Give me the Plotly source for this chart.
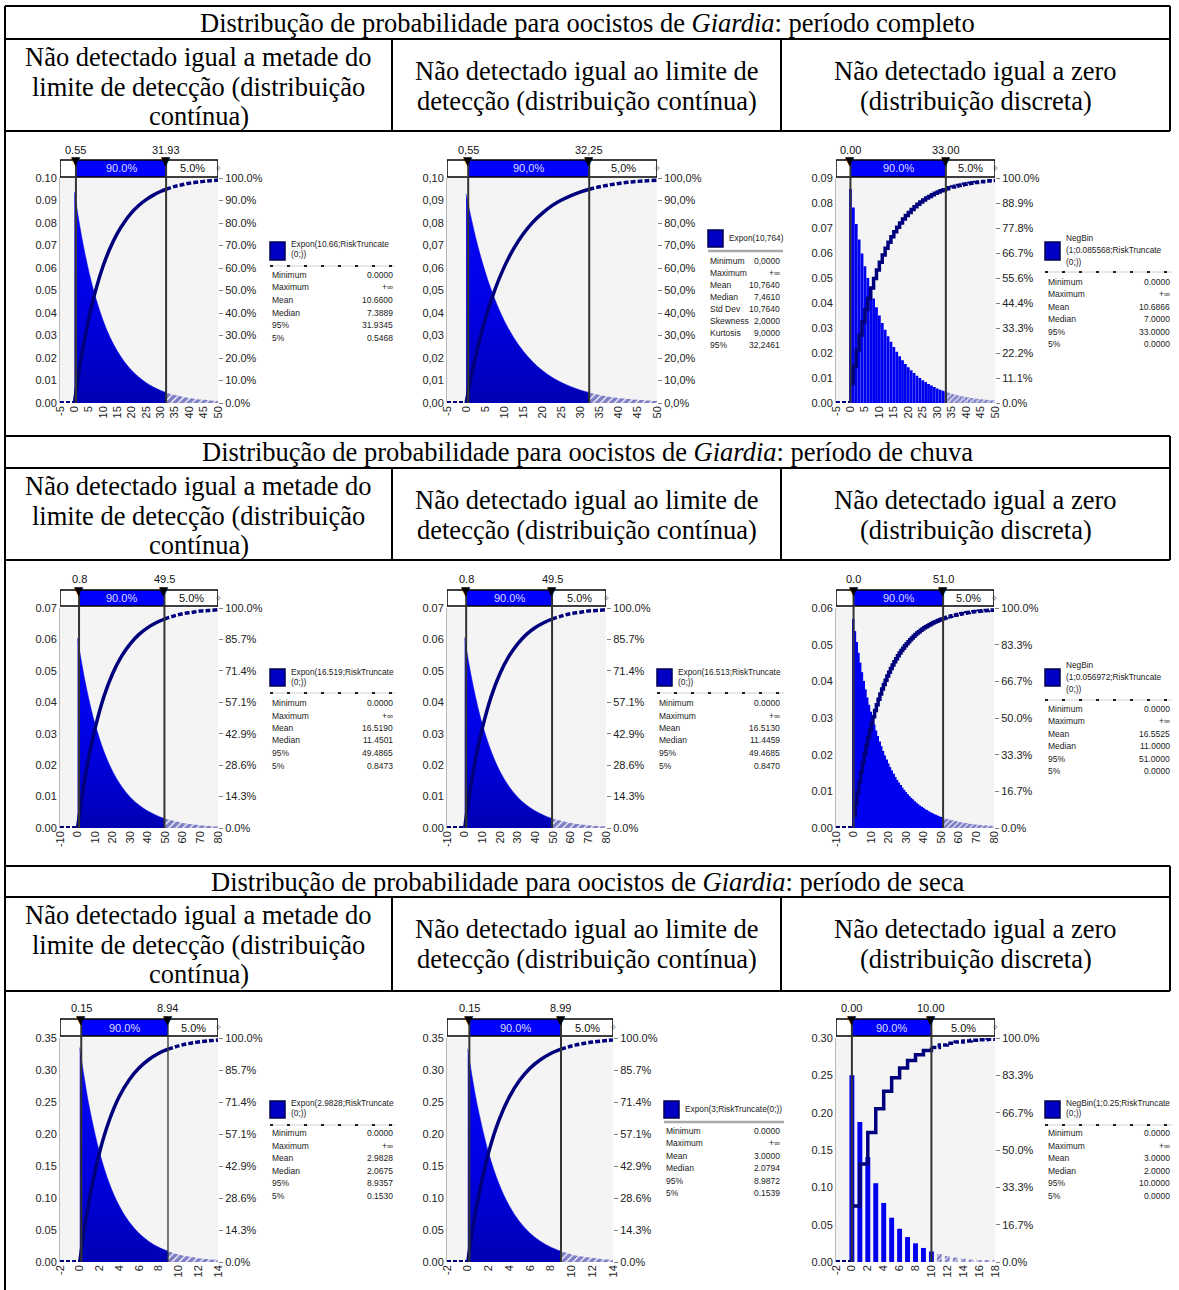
import numpy as np
import plotly.graph_objects as go

W, H = 1179, 1290

# ------------------------------------------------------------------ text data
TITLES = [
    "Distribução de probabilidade para oocistos de <i>Giardia</i>: período completo",
    "Distribução de probabilidade para oocistos de <i>Giardia</i>: período de chuva",
    "Distribução de probabilidade para oocistos de <i>Giardia</i>: período de seca",
]
HEAD_COL1 = ["Não detectado igual a metade do", "limite de detecção (distribuição", "contínua)"]
HEAD_COL2 = ["Não detectado igual ao limite de", "detecção (distribuição contínua)"]
HEAD_COL3 = ["Não detectado igual a zero", "(distribuição discreta)"]

# ------------------------------------------------------------------ tick labels
XT_A = [-5, 0, 5, 10, 15, 20, 25, 30, 35, 40, 45, 50]
XT_B = [-10, 0, 10, 20, 30, 40, 50, 60, 70, 80]
XT_C = [-2, 0, 2, 4, 6, 8, 10, 12, 14]
XT_D = [-2, 0, 2, 4, 6, 8, 10, 12, 14, 16, 18]

YL_10 = ["0.00", "0.01", "0.02", "0.03", "0.04", "0.05", "0.06", "0.07", "0.08", "0.09", "0.10"]
YL_10C = ["0,00", "0,01", "0,02", "0,03", "0,04", "0,05", "0,06", "0,07", "0,08", "0,09", "0,10"]
YL_9 = ["0.00", "0.01", "0.02", "0.03", "0.04", "0.05", "0.06", "0.07", "0.08", "0.09"]
YL_7 = ["0.00", "0.01", "0.02", "0.03", "0.04", "0.05", "0.06", "0.07"]
YL_6 = ["0.00", "0.01", "0.02", "0.03", "0.04", "0.05", "0.06"]
YL_35 = ["0.00", "0.05", "0.10", "0.15", "0.20", "0.25", "0.30", "0.35"]
YL_30 = ["0.00", "0.05", "0.10", "0.15", "0.20", "0.25", "0.30"]

YR_10 = ["0.0%", "10.0%", "20.0%", "30.0%", "40.0%", "50.0%", "60.0%", "70.0%", "80.0%", "90.0%", "100.0%"]
YR_10C = ["0,0%", "10,0%", "20,0%", "30,0%", "40,0%", "50,0%", "60,0%", "70,0%", "80,0%", "90,0%", "100,0%"]
YR_9 = ["0.0%", "11.1%", "22.2%", "33.3%", "44.4%", "55.6%", "66.7%", "77.8%", "88.9%", "100.0%"]
YR_7 = ["0.0%", "14.3%", "28.6%", "42.9%", "57.1%", "71.4%", "85.7%", "100.0%"]
YR_6 = ["0.0%", "16.7%", "33.3%", "50.0%", "66.7%", "83.3%", "100.0%"]

# ------------------------------------------------------------------ series data
# Panel 1: Expon(10.66) truncated at 0
P1_X = [0, 2.5, 5, 7.5, 10, 12.5, 15, 17.5, 20, 22.5, 25, 27.5, 30, 31.93, 35, 37.5, 40, 42.5, 45, 47.5, 50]
P1_DENS = [0.0938, 0.0742, 0.0587, 0.0464, 0.0367, 0.0290, 0.0230, 0.0182, 0.0144, 0.0114, 0.0090,
           0.0071, 0.0056, 0.0047, 0.0035, 0.0028, 0.0022, 0.0017, 0.0014, 0.0011, 0.0009]
P1_CDF = [0.0, 0.209, 0.374, 0.505, 0.609, 0.690, 0.755, 0.806, 0.847, 0.879, 0.904,
          0.924, 0.940, 0.950, 0.963, 0.970, 0.977, 0.981, 0.985, 0.988, 0.991]

# Panel 2: Expon(10,764)
P2_X = [0, 2.5, 5, 7.5, 10, 12.5, 15, 17.5, 20, 22.5, 25, 27.5, 30, 32.25, 35, 37.5, 40, 42.5, 45, 47.5, 50]
P2_DENS = [0.0929, 0.0736, 0.0583, 0.0462, 0.0366, 0.0290, 0.0230, 0.0182, 0.0144, 0.0114, 0.0091,
           0.0072, 0.0057, 0.0046, 0.0036, 0.0028, 0.0022, 0.0018, 0.0014, 0.0011, 0.0009]
P2_CDF = [0.0, 0.207, 0.372, 0.502, 0.605, 0.687, 0.752, 0.804, 0.844, 0.877, 0.902,
          0.922, 0.938, 0.950, 0.961, 0.969, 0.976, 0.981, 0.985, 0.988, 0.990]

# Panel 3: NegBin(1;0.085568) probabilities for k = 0..50
P3_K = list(range(0, 51))
P3_PROB = [0.0856, 0.0782, 0.0716, 0.0654, 0.0598, 0.0547, 0.0500, 0.0457, 0.0418, 0.0383,
           0.0350, 0.0320, 0.0293, 0.0267, 0.0245, 0.0224, 0.0205, 0.0187, 0.0171, 0.0156,
           0.0143, 0.0131, 0.0120, 0.0109, 0.0100, 0.0091, 0.0084, 0.0076, 0.0070, 0.0064,
           0.0058, 0.0053, 0.0049, 0.0045, 0.0041, 0.0037, 0.0034, 0.0031, 0.0029, 0.0026,
           0.0024, 0.0022, 0.0020, 0.0018, 0.0017, 0.0015, 0.0014, 0.0013, 0.0012, 0.0011, 0.0010]

# Panel 4: Expon(16.519)
P4_X = [0, 2.5, 5, 7.5, 10, 15, 20, 25, 30, 35, 40, 45, 49.49, 55, 60, 65, 70, 75, 80]
P4_DENS = [0.0605, 0.0520, 0.0447, 0.0384, 0.0330, 0.0244, 0.0180, 0.0133, 0.0098, 0.0073,
           0.0054, 0.0040, 0.0030, 0.0022, 0.0016, 0.0012, 0.0009, 0.0006, 0.0005]
P4_CDF = [0.0, 0.140, 0.261, 0.365, 0.454, 0.597, 0.702, 0.780, 0.837, 0.880,
          0.911, 0.934, 0.950, 0.964, 0.974, 0.980, 0.986, 0.989, 0.992]

# Panel 5: Expon(16.513)
P5_X = [0, 2.5, 5, 7.5, 10, 15, 20, 25, 30, 35, 40, 45, 49.47, 55, 60, 65, 70, 75, 80]
P5_DENS = [0.0606, 0.0520, 0.0447, 0.0384, 0.0330, 0.0244, 0.0180, 0.0133, 0.0098, 0.0073,
           0.0054, 0.0040, 0.0030, 0.0022, 0.0016, 0.0012, 0.0009, 0.0006, 0.0005]
P5_CDF = [0.0, 0.140, 0.261, 0.365, 0.454, 0.597, 0.702, 0.780, 0.837, 0.880,
          0.911, 0.934, 0.950, 0.964, 0.974, 0.980, 0.986, 0.989, 0.992]

# Panel 6: NegBin(1;0.056972) probabilities for k = 0..80
P6_K = list(range(0, 81))
P6_PROB = [0.0570, 0.0537, 0.0507, 0.0478, 0.0451, 0.0425, 0.0401, 0.0378, 0.0356, 0.0336,
           0.0317, 0.0299, 0.0282, 0.0266, 0.0251, 0.0236, 0.0223, 0.0210, 0.0198, 0.0187,
           0.0176, 0.0166, 0.0157, 0.0148, 0.0139, 0.0131, 0.0124, 0.0117, 0.0110, 0.0104,
           0.0098, 0.0092, 0.0087, 0.0082, 0.0078, 0.0073, 0.0069, 0.0065, 0.0061, 0.0058,
           0.0055, 0.0051, 0.0049, 0.0046, 0.0043, 0.0041, 0.0038, 0.0036, 0.0034, 0.0032,
           0.0030, 0.0029, 0.0027, 0.0025, 0.0024, 0.0023, 0.0021, 0.0020, 0.0019, 0.0018,
           0.0017, 0.0016, 0.0015, 0.0014, 0.0013, 0.0013, 0.0012, 0.0011, 0.0011, 0.0010,
           0.0009, 0.0009, 0.0008, 0.0008, 0.0007, 0.0007, 0.0007, 0.0006, 0.0006, 0.0006, 0.0005]

# Panel 7: Expon(2.9828)
P7_X = [0, 0.5, 1, 2, 3, 4, 5, 6, 7, 8, 8.94, 10, 11, 12, 13, 14]
P7_DENS = [0.3353, 0.2836, 0.2398, 0.1715, 0.1226, 0.0877, 0.0627, 0.0448, 0.0321, 0.0229,
           0.0168, 0.0117, 0.0084, 0.0060, 0.0043, 0.0031]
P7_CDF = [0.0, 0.154, 0.285, 0.489, 0.634, 0.739, 0.813, 0.866, 0.904, 0.932,
          0.950, 0.965, 0.975, 0.982, 0.987, 0.991]

# Panel 8: Expon(3)
P8_X = [0, 0.5, 1, 2, 3, 4, 5, 6, 7, 8, 8.99, 10, 11, 12, 13, 14]
P8_DENS = [0.3333, 0.2821, 0.2388, 0.1711, 0.1226, 0.0879, 0.0630, 0.0451, 0.0323, 0.0232,
           0.0167, 0.0119, 0.0085, 0.0061, 0.0044, 0.0031]
P8_CDF = [0.0, 0.154, 0.283, 0.487, 0.632, 0.736, 0.811, 0.865, 0.903, 0.931,
          0.950, 0.964, 0.974, 0.982, 0.987, 0.991]

# Panel 9: NegBin(1;0.25) probabilities for k = 0..18
P9_K = list(range(0, 19))
P9_PROB = [0.2500, 0.1875, 0.1406, 0.1055, 0.0791, 0.0593, 0.0445, 0.0334, 0.0250, 0.0188,
           0.0141, 0.0106, 0.0079, 0.0059, 0.0045, 0.0033, 0.0025, 0.0019, 0.0014]

# ------------------------------------------------------------------ legend / stats data
NAMES_STD = ["Minimum", "Maximum", "Mean", "Median", "95%", "5%"]
NAMES_P2 = ["Minimum", "Maximum", "Mean", "Median", "Std Dev", "Skewness", "Kurtosis", "95%"]

P1_STATS = ["0.0000", "+∞", "10.6600", "7.3889", "31.9345", "0.5468"]
P2_STATS = ["0,0000", "+∞", "10,7640", "7,4610", "10,7640", "2,0000", "9,0000", "32,2461"]
P3_STATS = ["0.0000", "+∞", "10.6866", "7.0000", "33.0000", "0.0000"]
P4_STATS = ["0.0000", "+∞", "16.5190", "11.4501", "49.4865", "0.8473"]
P5_STATS = ["0.0000", "+∞", "16.5130", "11.4459", "49.4685", "0.8470"]
P6_STATS = ["0.0000", "+∞", "16.5525", "11.0000", "51.0000", "0.0000"]
P7_STATS = ["0.0000", "+∞", "2.9828", "2.0675", "8.9357", "0.1530"]
P8_STATS = ["0.0000", "+∞", "3.0000", "2.0794", "8.9872", "0.1539"]
P9_STATS = ["0.0000", "+∞", "3.0000", "2.0000", "10.0000", "0.0000"]

P1_LEG = ["Expon(10.66;RiskTruncate", "(0;))"]
P2_LEG = ["Expon(10,764)"]
P3_LEG = ["NegBin", "(1;0.085568;RiskTruncate", "(0;))"]
P4_LEG = ["Expon(16.519;RiskTruncate", "(0;))"]
P5_LEG = ["Expon(16.513;RiskTruncate", "(0;))"]
P6_LEG = ["NegBin", "(1;0.056972;RiskTruncate", "(0;))"]
P7_LEG = ["Expon(2.9828;RiskTruncate", "(0;))"]
P8_LEG = ["Expon(3;RiskTruncate(0;))"]
P9_LEG = ["NegBin(1;0.25;RiskTruncate", "(0;))"]

# 5% / 95% markers (values) and their labels
P_MARK = [(0.5468, 31.9345), (0.552, 32.2461), (0.0, 33.0), (0.8473, 49.4865), (0.8470, 49.4685),
          (0.0, 51.0), (0.1530, 8.9357), (0.1539, 8.9872), (0.0, 10.0)]
P_MARK_LBL = [("0.55", "31.93"), ("0,55", "32,25"), ("0.00", "33.00"), ("0.8", "49.5"), ("0.8", "49.5"),
              ("0.0", "51.0"), ("0.15", "8.94"), ("0.15", "8.99"), ("0.00", "10.00")]
P_PCT = [("90.0%", "5.0%"), ("90,0%", "5,0%"), ("90.0%", "5.0%"), ("90.0%", "5.0%"), ("90.0%", "5.0%"),
         ("90.0%", "5.0%"), ("90.0%", "5.0%"), ("90.0%", "5.0%"), ("90.0%", "5.0%")]

PANELS = [
    dict(kind="cont", X=P1_X, D=P1_DENS, C=P1_CDF, xt=XT_A, yl=YL_10, yr=YR_10, leg=P1_LEG, names=NAMES_STD, vals=P1_STATS),
    dict(kind="cont", X=P2_X, D=P2_DENS, C=P2_CDF, xt=XT_A, yl=YL_10C, yr=YR_10C, leg=P2_LEG, names=NAMES_P2, vals=P2_STATS),
    dict(kind="disc", X=P3_K, D=P3_PROB, xt=XT_A, yl=YL_9, yr=YR_9, leg=P3_LEG, names=NAMES_STD, vals=P3_STATS, bw=0.97),
    dict(kind="cont", X=P4_X, D=P4_DENS, C=P4_CDF, xt=XT_B, yl=YL_7, yr=YR_7, leg=P4_LEG, names=NAMES_STD, vals=P4_STATS),
    dict(kind="cont", X=P5_X, D=P5_DENS, C=P5_CDF, xt=XT_B, yl=YL_7, yr=YR_7, leg=P5_LEG, names=NAMES_STD, vals=P5_STATS),
    dict(kind="disc", X=P6_K, D=P6_PROB, xt=XT_B, yl=YL_6, yr=YR_6, leg=P6_LEG, names=NAMES_STD, vals=P6_STATS, bw=0.97),
    dict(kind="cont", X=P7_X, D=P7_DENS, C=P7_CDF, xt=XT_C, yl=YL_35, yr=YR_7, leg=P7_LEG, names=NAMES_STD, vals=P7_STATS),
    dict(kind="cont", X=P8_X, D=P8_DENS, C=P8_CDF, xt=XT_C, yl=YL_35, yr=YR_7, leg=P8_LEG, names=NAMES_STD, vals=P8_STATS),
    dict(kind="disc", X=P9_K, D=P9_PROB, xt=XT_D, yl=YL_30, yr=YR_6, leg=P9_LEG, names=NAMES_STD, vals=P9_STATS, bw=0.62),
]

# ------------------------------------------------------------------ geometry (pixels)
ROW_PLOT = [(178, 403), (608, 828), (1038, 1262)]
ROW_BAR = [(160, 177), (590, 606), (1019, 1036)]
ROW_LBL = [150, 579, 1008]
COL_X = [[(60, 218), (447, 657), (836, 995)],
         [(60, 218), (447, 606), (836, 994)],
         [(60, 218), (447, 613), (836, 995)]]
LEGEND_GEOM = [
    dict(sw=(270, 285, 242, 260), tx=289, ty=[244, 254], sep=(270, 395, 266, "dot"), s0=275, dy=12.5, nx=270, vx=395),
    dict(sw=(708, 723, 230, 247), tx=727, ty=[238], sep=(708, 783, 251, "solid"), s0=261, dy=12.0, nx=708, vx=782),
    dict(sw=(1045, 1060, 242, 260), tx=1064, ty=[238, 250, 262], sep=(1045, 1172, 272, "dot"), s0=282, dy=12.4, nx=1046, vx=1172),
    dict(sw=(270, 285, 669, 686), tx=289, ty=[672, 682], sep=(270, 395, 693, "dot"), s0=703, dy=12.5, nx=270, vx=395),
    dict(sw=(657, 672, 669, 686), tx=676, ty=[672, 682], sep=(657, 784, 693, "dot"), s0=703, dy=12.5, nx=657, vx=782),
    dict(sw=(1045, 1060, 669, 686), tx=1064, ty=[665, 677, 689], sep=(1045, 1172, 700, "dot"), s0=709, dy=12.4, nx=1046, vx=1172),
    dict(sw=(270, 285, 1101, 1118), tx=289, ty=[1103, 1113], sep=(270, 395, 1125, "dot"), s0=1133, dy=12.6, nx=270, vx=395),
    dict(sw=(664, 679, 1101, 1118), tx=683, ty=[1109], sep=(664, 784, 1122, "solid"), s0=1131, dy=12.4, nx=664, vx=782),
    dict(sw=(1045, 1060, 1101, 1118), tx=1064, ty=[1103, 1113], sep=(1045, 1172, 1125, "dot"), s0=1133, dy=12.6, nx=1046, vx=1172),
]


def fx(p):
    return p / W


def fy(p):
    return 1 - p / H


SANS = "Liberation Sans"
SERIF = "Liberation Serif"
NAVY = "#00007c"
HATCH = dict(shape="/", fgcolor="#00008c", bgcolor="white", size=5, solidity=0.75)

fig = go.Figure()
shapes = []
annos = []
layout_axes = {}


def sfx(n):
    return "" if n == 1 else str(n)


for i, P in enumerate(PANELS):
    n = i + 1
    row, col = divmod(i, 3)
    xname, yname, yrname = "x" + sfx(n), "y" + sfx(n), "y" + str(n + 9)
    x0p, x1p = COL_X[row][col]
    y0p, y1p = ROW_PLOT[row]
    btop, bbot = ROW_BAR[row]
    xmin, xmax = P["xt"][0], P["xt"][-1]
    ylv = [float(s.replace(",", ".")) for s in P["yl"]]
    ymax = ylv[-1]
    m = len(P["yr"]) - 1

    layout_axes["xaxis" + sfx(n)] = dict(
        domain=[fx(x0p), fx(x1p)], anchor=yname, range=[xmin, xmax], tickmode="array",
        tickvals=P["xt"], ticktext=[str(v) for v in P["xt"]], tickangle=-90, showgrid=False,
        zeroline=False, showline=False, ticks="", automargin=False,
        tickfont=dict(family=SANS, size=11, color="#222"))
    layout_axes["yaxis" + sfx(n)] = dict(
        domain=[fy(y1p), fy(y0p)], anchor=xname, range=[0, ymax], tickmode="array",
        tickvals=ylv, ticktext=P["yl"], showgrid=False, zeroline=False, showline=True,
        linecolor="#b8b8b8", linewidth=1, ticks="", automargin=False,
        tickfont=dict(family=SANS, size=11, color="#222"))
    layout_axes["yaxis" + str(n + 9)] = dict(
        overlaying=yname, anchor=xname, side="right", range=[0, 1], tickmode="array",
        tickvals=[j / m for j in range(m + 1)], ticktext=P["yr"], showgrid=False, zeroline=False,
        showline=False, ticks="outside", ticklen=4, tickcolor="#808080", automargin=False,
        tickfont=dict(family=SANS, size=11, color="#222"))

    p5, p95 = P_MARK[i]
    X, D = P["X"], P["D"]

    if P["kind"] == "cont":
        C = P["C"]
        k = int(np.argmin(np.abs(np.array(X) - p95)))
        fig.add_trace(go.Scatter(
            x=X[:k + 1], y=D[:k + 1], xaxis=xname, yaxis=yname, mode="lines",
            line=dict(width=0.5, color="#0000e8", shape="spline"), fill="tozeroy",
            fillgradient=dict(type="vertical",
                              colorscale=[[0, "#0000b4"], [0.4, "#0000e0"], [1, "#0606ff"]]),
            hoverinfo="skip", showlegend=False))
        fig.add_trace(go.Scatter(
            x=X[k:], y=D[k:], xaxis=xname, yaxis=yname, mode="lines",
            line=dict(width=0, color="#0000c0", shape="spline"), fill="tozeroy", fillcolor="white",
            fillpattern=HATCH, hoverinfo="skip", showlegend=False))
        cx, cy = X, C
        cshape = "spline"
        ksplit = k
    else:
        K = X
        head = [(kk, d) for kk, d in zip(K, D) if kk <= p95]
        tail = [(kk, d) for kk, d in zip(K, D) if kk > p95]
        fig.add_trace(go.Bar(
            x=[a for a, _ in head], y=[b for _, b in head], width=P["bw"], xaxis=xname, yaxis=yname,
            marker=dict(color="#0000f0", line=dict(width=0)), hoverinfo="skip", showlegend=False))
        fig.add_trace(go.Bar(
            x=[a for a, _ in tail], y=[b for _, b in tail], width=P["bw"], xaxis=xname, yaxis=yname,
            marker=dict(color="white", line=dict(width=0), pattern=dict(HATCH, size=4)),
            hoverinfo="skip", showlegend=False))
        cx = K
        cy = list(np.cumsum(D))
        cshape = "hv"
        ksplit = len(head) - 1

    # zero-height dashed segment left of 0
    fig.add_trace(go.Scatter(
        x=[xmin, 0], y=[0, 0], xaxis=xname, yaxis=yname, mode="lines",
        line=dict(width=4, color=NAVY, dash="4px,2px"), hoverinfo="skip", showlegend=False))
    # cumulative curve
    fig.add_trace(go.Scatter(
        x=cx[:ksplit + 1], y=cy[:ksplit + 1], xaxis=xname, yaxis=yrname, mode="lines",
        line=dict(width=3.5, color=NAVY, shape=cshape), hoverinfo="skip", showlegend=False))
    fig.add_trace(go.Scatter(
        x=cx[ksplit:], y=cy[ksplit:], xaxis=xname, yaxis=yrname, mode="lines",
        line=dict(width=3.5, color="white", shape=cshape), hoverinfo="skip", showlegend=False))
    fig.add_trace(go.Scatter(
        x=cx[ksplit:], y=cy[ksplit:], xaxis=xname, yaxis=yrname, mode="lines",
        line=dict(width=3.5, color=NAVY, shape=cshape, dash="5px,2px"), hoverinfo="skip", showlegend=False))

    # ---- top delimiter bar
    xr = xname
    shapes.append(dict(type="rect", xref=xr, yref="paper", x0=xmin, x1=xmax, y0=fy(bbot), y1=fy(btop),
                       fillcolor="white", line=dict(width=0), layer="above"))
    shapes.append(dict(type="rect", xref=xr, yref="paper", x0=p5, x1=p95, y0=fy(bbot), y1=fy(btop),
                       fillcolor="#0000ff", line=dict(width=0), layer="above"))
    shapes.append(dict(type="rect", xref=xr, yref="paper", x0=xmin, x1=xmax, y0=fy(bbot), y1=fy(btop),
                       fillcolor="rgba(0,0,0,0)", line=dict(width=1.5, color="black"), layer="above"))
    for pv, lw in ((p5, 2), (p95, 1.3 if n == 7 else 2)):
        shapes.append(dict(type="line", xref=xr, yref="paper", x0=pv, x1=pv, y0=fy(y1p), y1=fy(btop),
                           line=dict(width=lw, color="#333333"), layer="above"))
        annos.append(dict(text="▼", x=pv, y=fy(btop + 1), xref=xr, yref="paper", showarrow=False,
                          font=dict(family="DejaVu Sans", size=12, color="black"),
                          xanchor="center", yanchor="middle"))
    bmid = (btop + bbot) / 2
    annos.append(dict(text=P_PCT[i][0], x=(p5 + p95) / 2, y=fy(bmid), xref=xr, yref="paper", showarrow=False,
                      font=dict(family=SANS, size=11, color="#dcdcff"), xanchor="center", yanchor="middle"))
    annos.append(dict(text=P_PCT[i][1], x=(p95 + xmax) / 2, y=fy(bmid), xref=xr, yref="paper", showarrow=False,
                      font=dict(family=SANS, size=11, color="#111"), xanchor="center", yanchor="middle"))
    annos.append(dict(text="✧", x=xmax, y=fy(bmid), xref=xr, yref="paper", showarrow=False,
                      font=dict(family="DejaVu Sans", size=8, color="#333"), xanchor="center", yanchor="middle"))
    for pv, lbl in zip((p5, p95), P_MARK_LBL[i]):
        annos.append(dict(text=lbl, x=pv, y=fy(ROW_LBL[row]), xref=xr, yref="paper", showarrow=False,
                          font=dict(family=SANS, size=11, color="#111"), xanchor="center", yanchor="middle"))

    # ---- legend block
    G = LEGEND_GEOM[i]
    sx0, sx1, sy0, sy1 = G["sw"]
    shapes.append(dict(type="rect", xref="paper", yref="paper", x0=fx(sx0), x1=fx(sx1), y0=fy(sy1), y1=fy(sy0),
                       fillcolor="#0000c4", line=dict(width=1.5, color="#000050"), layer="above"))
    for t, ty in zip(P["leg"], G["ty"]):
        annos.append(dict(text=t, x=fx(G["tx"]), y=fy(ty), xref="paper", yref="paper", showarrow=False,
                          font=dict(family=SANS, size=8.3, color="#222"), xanchor="left", yanchor="middle"))
    lx0, lx1, ly, style = G["sep"]
    if style == "solid":
        shapes.append(dict(type="line", xref="paper", yref="paper", x0=fx(lx0), x1=fx(lx1), y0=fy(ly), y1=fy(ly),
                           line=dict(width=2.5, color="#a8a8a8"), layer="above"))
    else:
        shapes.append(dict(type="line", xref="paper", yref="paper", x0=fx(lx0), x1=fx(lx1), y0=fy(ly), y1=fy(ly),
                           line=dict(width=1, color="#cfcfcf"), layer="above"))
        shapes.append(dict(type="line", xref="paper", yref="paper", x0=fx(lx0), x1=fx(lx1), y0=fy(ly), y1=fy(ly),
                           line=dict(width=2, color="#202020", dash="3px,14px"), layer="above"))
    for j, (nm, vv) in enumerate(zip(P["names"], P["vals"])):
        yy = fy(G["s0"] + j * G["dy"])
        annos.append(dict(text=nm, x=fx(G["nx"]), y=yy, xref="paper", yref="paper", showarrow=False,
                          font=dict(family=SANS, size=8.5, color="#222"), xanchor="left", yanchor="middle"))
        annos.append(dict(text=vv, x=fx(G["vx"]), y=yy, xref="paper", yref="paper", showarrow=False,
                          font=dict(family=SANS, size=8.5, color="#222"), xanchor="right", yanchor="middle"))

# ------------------------------------------------------------------ table frame
LINE_W = 2
X_LEFT, X_RIGHT = 5, 1170
COL_DIV = [392, 781]
H_LINES = [6, 39, 131, 436, 468, 560, 866, 897, 991]
BLOCK_TOP = [6, 436, 866]
HEAD_TOP = [39, 468, 897]
HEAD_BOT = [131, 560, 991]


def pline(x0, y0, x1, y1):
    shapes.append(dict(type="line", xref="paper", yref="paper", x0=fx(x0), x1=fx(x1), y0=fy(y0), y1=fy(y1),
                       line=dict(width=LINE_W, color="black"), layer="above"))


for yv in H_LINES:
    pline(X_LEFT, yv, X_RIGHT, yv)
pline(X_LEFT, 6, X_LEFT, 1290)
for r in range(3):
    pline(X_RIGHT, BLOCK_TOP[r], X_RIGHT, HEAD_BOT[r])
    for cxv in COL_DIV:
        pline(cxv, HEAD_TOP[r], cxv, HEAD_BOT[r])

TITLE_Y = [23, 452, 882]
COL_CENTER = [198.5, 586.5, 975.5]
SERIF_SIZE = 26.5
for r in range(3):
    annos.append(dict(text=TITLES[r], x=fx(587.5), y=fy(TITLE_Y[r]), xref="paper", yref="paper", showarrow=False,
                      font=dict(family=SERIF, size=SERIF_SIZE, color="black"), xanchor="center", yanchor="middle"))
    for j, t in enumerate(HEAD_COL1):
        annos.append(dict(text=t, x=fx(COL_CENTER[0]), y=fy(HEAD_TOP[r] + 18 + 29.5 * j), xref="paper", yref="paper",
                          showarrow=False, font=dict(family=SERIF, size=SERIF_SIZE, color="black"),
                          xanchor="center", yanchor="middle"))
    for c, lines in ((1, HEAD_COL2), (2, HEAD_COL3)):
        for j, t in enumerate(lines):
            annos.append(dict(text=t, x=fx(COL_CENTER[c]), y=fy(HEAD_TOP[r] + 32 + 30 * j), xref="paper",
                              yref="paper", showarrow=False,
                              font=dict(family=SERIF, size=SERIF_SIZE, color="black"),
                              xanchor="center", yanchor="middle"))

fig.update_layout(
    width=W, height=H, margin=dict(l=0, r=0, t=0, b=0, pad=0, autoexpand=False),
    paper_bgcolor="white", plot_bgcolor="#f4f4f4", showlegend=False, barmode="overlay",
    hovermode=False, font=dict(family=SANS, size=11, color="#222"),
    shapes=shapes, annotations=annos, **layout_axes)

PAGE_FIX = ("document.body.style.margin='0px';document.body.style.padding='0px';"
            "document.documentElement.style.overflow='hidden';document.body.style.overflow='hidden';")
fig.write_html("out.html", include_plotlyjs=True, post_script=PAGE_FIX,
               config={"displayModeBar": False, "responsive": False})
